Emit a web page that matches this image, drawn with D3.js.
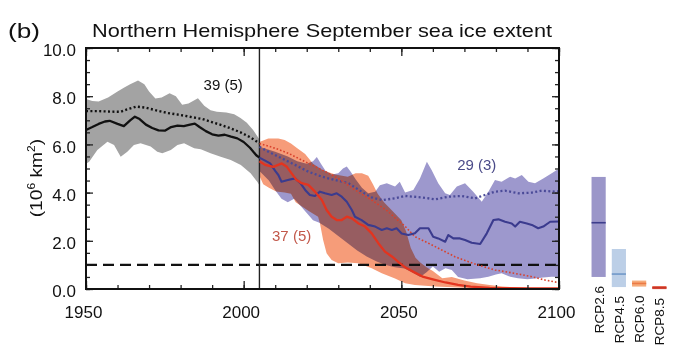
<!DOCTYPE html>
<html>
<head>
<meta charset="utf-8">
<script src="https://cdn.jsdelivr.net/npm/d3@7"></script>
<style>
  body { margin: 0; background: #fff; }
  svg { display: block; font-family: "Liberation Sans", Arial, sans-serif; background: #fff; }
</style>
</head>
<body>
<svg id="chart" width="680" height="349"></svg>
<script>
// Sea ice extent (10^6 km^2), [year, value] pairs

// historical, 1950-2005
const histMean = [[1950,6.6],[1952,6.72],[1954,6.85],[1956,6.95],[1957.5,6.98],[1960,6.85],[1962,6.76],
  [1964,7.0],[1965.5,7.15],[1967,7.05],[1969,6.82],[1971,6.68],[1973,6.58],[1975,6.57],[1977,6.72],
  [1979,6.78],[1981,6.76],[1983,6.82],[1984.5,6.86],[1986,6.72],[1988,6.55],[1990,6.42],[1992,6.36],
  [1994,6.4],[1996,6.32],[1998,6.25],[2000,6.1],[2002,5.86],[2004,5.55],[2005,5.45]];
const histAll = [[1950,7.38],[1954,7.38],[1958,7.36],[1961,7.35],[1963,7.45],[1966,7.57],[1969,7.52],
  [1972,7.42],[1976,7.3],[1980,7.22],[1984,7.12],[1987,7.05],[1990,6.92],[1993,6.8],[1996,6.66],
  [1999,6.5],[2002,6.3],[2005,6.05]];
const histUpper = [[1950,7.88],[1952,7.8],[1954,7.78],[1957,7.95],[1960,8.2],[1962,8.35],[1964,8.5],
  [1966.5,8.65],[1968.5,8.5],[1970,8.2],[1972,7.9],[1974,7.95],[1976.5,8.12],[1978.5,8.0],[1980.5,7.65],
  [1982.5,7.7],[1985.5,7.92],[1987.5,7.6],[1989.5,7.42],[1991.5,7.35],[1994.5,7.32],[1997,7.25],
  [1999,7.1],[2001,6.9],[2003,6.6],[2005,6.2]];
const histLower = [[1950,5.2],[1951,5.28],[1953.6,5.77],[1956.8,6.11],[1958.9,5.98],[1961,5.49],
  [1963.1,5.7],[1965.2,5.98],[1967.3,6.05],[1970.5,5.91],[1972.6,5.7],[1974.2,5.63],[1976.9,5.77],
  [1979,5.98],[1981.1,6.05],[1984.3,5.84],[1986.4,5.8],[1989.5,5.63],[1992.7,5.49],[1995.9,5.35],
  [1999.1,5.15],[2002.2,4.8],[2004.3,4.45],[2005,4.3]];

// RCP2.6, 2005-2100
const rcp26Mean = [[2005,5.45],[2006.5,5.35],[2008.4,5.21],[2010,4.9],[2011,4.73],[2012,4.45],[2014,4.52],
  [2016.3,4.59],[2018,4.39],[2019.5,4.11],[2021,3.9],[2022.6,3.86],[2024.2,4.04],[2025.8,3.97],
  [2027.9,3.9],[2029.5,3.97],[2031.1,3.83],[2032.7,3.62],[2034.3,3.28],[2035.3,3.0],[2037.4,2.86],
  [2039.5,2.66],[2041.7,2.59],[2043.8,2.45],[2045.4,2.52],[2047,2.45],[2048.5,2.52],[2050.1,2.3],
  [2052.2,2.24],[2054.3,2.31],[2055.9,2.52],[2058.6,2.52],[2060.1,2.17],[2061.7,2.1],[2063.9,1.96],
  [2064.9,2.24],[2066.5,2.1],[2068.6,2.1],[2070.2,2.03],[2072.3,1.92],[2075,1.87],[2077.1,2.31],
  [2079.2,2.86],[2080.8,2.89],[2082.9,2.79],[2085,2.72],[2086.1,2.59],[2087.6,2.79],[2089.8,2.72],
  [2091.4,2.66],[2093.4,2.52],[2095,2.59],[2097.2,2.79],[2100,2.8]];
const rcp26All = [[2005,5.9],[2007.8,5.7],[2012.1,5.42],[2016.3,5.15],[2020.5,4.87],[2024.8,4.66],
  [2029,4.52],[2033.2,4.39],[2037.4,4.04],[2040.6,3.8],[2043.8,3.69],[2048,3.76],[2051.2,3.86],
  [2056.5,3.8],[2060.7,3.72],[2064.9,3.83],[2069.2,3.86],[2073.4,3.76],[2076.5,3.9],[2079.7,4.04],
  [2082.9,4.08],[2087.1,3.97],[2091.4,4.0],[2094.5,4.08],[2098.7,4.04],[2100,4.05]];
const rcp26Upper = [[2005,5.9],[2010,5.7],[2014,5.5],[2017,5.3],[2020,5.2],[2022,5.3],[2023.2,5.48],
  [2024.5,5.2],[2026,4.9],[2028,4.75],[2030,4.8],[2031.5,5.0],[2032.7,5.08],[2034,4.85],[2035.5,4.55],
  [2037.5,4.2],[2039.5,3.97],[2041.7,4.04],[2043.2,4.3],[2045.4,4.39],[2048,4.25],[2049.5,4.45],
  [2051.2,4.0],[2053.8,4.11],[2055.9,4.59],[2058.1,5.28],[2059.6,4.94],[2061.7,4.39],[2063.9,3.97],
  [2065.4,3.9],[2067.6,4.25],[2070.2,4.39],[2072.8,4.04],[2075.5,3.62],[2077.6,4.04],[2079.7,4.52],
  [2081.8,4.45],[2084.5,4.66],[2086.1,4.59],[2088.2,4.73],[2090.3,4.45],[2092.4,4.39],[2095,4.59],
  [2097.7,4.8],[2099.3,4.94],[2100,4.95]];
const rcp26Lower = [[2005,4.9],[2008,4.5],[2010,4.1],[2012,3.75],[2014,3.6],[2016,3.75],[2018,3.45],
  [2020,3.15],[2022,2.85],[2024,2.75],[2027,2.5],[2030,2.2],[2033,1.9],[2036,1.6],[2039,1.35],
  [2042,1.15],[2045,1.0],[2048,0.9],[2051,0.85],[2054,0.65],[2056,0.5],[2058,0.7],[2060,0.93],
  [2062,0.72],[2064,0.86],[2066,0.79],[2068,0.5],[2071,0.4],[2075,0.45],[2077.6,0.51],[2080,0.6],
  [2081.8,0.65],[2084.5,0.51],[2087,0.45],[2090,0.4],[2092.4,0.44],[2095,0.48],[2097.7,0.51],[2100,0.5]];

// RCP8.5, 2005-2100
const rcp85Mean = [[2005,5.3],[2006.8,5.15],[2009.4,5.07],[2012.1,5.21],[2013.7,5.07],[2015.2,4.8],
  [2016.8,4.52],[2018.4,4.39],[2020.5,4.32],[2022.6,4.04],[2024.8,3.69],[2026.3,3.28],[2027.9,3.0],
  [2029.5,2.86],[2031.1,2.86],[2032.7,3.0],[2034.3,2.93],[2036.4,2.72],[2038.5,2.59],[2040.6,2.31],
  [2042.7,1.9],[2044.8,1.55],[2047,1.35],[2049.1,1.12],[2051.2,0.9],[2054,0.7],[2057,0.5],[2060,0.4],
  [2064,0.27],[2068,0.17],[2072,0.1],[2078,0.05],[2090,0.03],[2100,0.02]];
const rcp85All = [[2005,6.04],[2010,5.84],[2014.2,5.63],[2019.5,5.28],[2024.8,4.94],[2030,4.59],
  [2035.3,4.11],[2040.6,3.69],[2045.9,3.21],[2048,2.95],[2051.2,2.6],[2054.3,2.17],[2058.6,1.9],
  [2062.8,1.62],[2067,1.34],[2071.3,1.13],[2075.5,0.95],[2079.7,0.79],[2082.9,0.72],[2087.1,0.62],
  [2091.4,0.51],[2095.6,0.37],[2099.3,0.28],[2100,0.27]];
const rcp85Upper = [[2005,6.1],[2007.8,6.25],[2011,6.25],[2013,6.18],[2015,6.04],[2017,5.84],
  [2019.5,5.6],[2022,5.2],[2025,4.94],[2029,4.75],[2033,4.66],[2035.5,4.8],[2037.5,4.8],[2039.5,4.7],
  [2041,4.35],[2042.5,3.95],[2044.5,3.6],[2047.5,3.2],[2050,2.85],[2051.5,2.4],[2053,1.7],[2054.5,1.3],
  [2056,1.1],[2058,0.9],[2060,0.75],[2063,0.45],[2066,0.5],[2070,0.35],[2074,0.24],[2078,0.17],
  [2082,0.1],[2088,0.05],[2100,0.03]];
const rcp85Lower = [[2005,4.7],[2006.2,4.35],[2008,4.2],[2010.3,4.05],[2013,4.0],[2015,3.95],[2016.5,3.6],
  [2020.5,3.25],[2023.6,3.0],[2024.2,2.72],[2025.2,2.03],[2026.3,1.48],[2027.9,1.2],[2030,1.07],
  [2033,1.1],[2036.4,1.07],[2040.6,0.86],[2043.8,0.65],[2048,0.44],[2051.2,0.24],[2054.3,0.17],
  [2060.7,0.1],[2070,0.05],[2080,0.02],[2100,0.01]];

// 2081-2100 ranges per scenario: [min, median, max]
const rcpNames = ['RCP2.6', 'RCP4.5', 'RCP6.0', 'RCP8.5'];
const rcpRanges = [[0.5, 2.75, 4.65], [0.08, 0.62, 1.66], [0.1, 0.23, 0.35], [0.0, 0.05, 0.12]];

const xTickLabels = [1950, 2000, 2050, 2100];
const yTickLabels = [0, 2, 4, 6, 8, 10];
const thresholdValue = 1.0;
const splitYear = 2005;

// ---- layout ----
const margin = { top: 48, right: 121, bottom: 60, left: 86 };
const W = 680, H = 349;
const width = W - margin.left - margin.right;
const height = H - margin.top - margin.bottom;

const svg = d3.select('#chart');
const g = svg.append('g').attr('transform', `translate(${margin.left},${margin.top})`);

const x = d3.scaleLinear().domain([1950, 2100]).range([0, width]);
const y = d3.scaleLinear().domain([0, 10]).range([height, 0]);

const line = d3.line().x(d => x(d[0])).y(d => y(d[1]));
// band = upper edge forward, lower edge back
const band = (up, lo) => line(up.concat(lo.slice().reverse())) + 'Z';

// ---- bands (the RCP8.5 band multiplies over RCP2.6, giving the brown overlap) ----
g.append('path').attr('d', band(histUpper, histLower)).attr('fill', '#a3a3a3');
g.append('path').attr('d', band(rcp26Upper, rcp26Lower)).attr('fill', '#9d98cd');
g.append('path').attr('d', band(rcp85Upper, rcp85Lower))
  .attr('fill', '#f69c79').style('mix-blend-mode', 'multiply');

// threshold + split line
g.append('line')
  .attr('x1', 0).attr('x2', width)
  .attr('y1', y(thresholdValue)).attr('y2', y(thresholdValue))
  .attr('stroke', '#111').attr('stroke-width', 2.4).attr('stroke-dasharray', '11,6');
g.append('line')
  .attr('x1', x(splitYear)).attr('x2', x(splitYear))
  .attr('y1', 0).attr('y2', height)
  .attr('stroke', '#222').attr('stroke-width', 1.4);

// ---- lines ----
const series = [
  { data: histAll,   color: '#111',    w: 2.4, dash: '2,2.4' },
  { data: rcp26All,  color: '#4a4a98', w: 2.3, dash: '2,2.4' },
  { data: rcp85All,  color: '#d8412c', w: 1.6, dash: '1.6,2' },
  { data: histMean,  color: '#111',    w: 2.3 },
  { data: rcp26Mean, color: '#3b3b8e', w: 2.1 },
  { data: rcp85Mean, color: '#e3341f', w: 2.3 },
];
series.forEach(s => {
  g.append('path')
    .attr('d', line(s.data))
    .attr('fill', 'none')
    .attr('stroke', s.color)
    .attr('stroke-width', s.w)
    .attr('stroke-linejoin', 'round')
    .attr('stroke-dasharray', s.dash || null);
});

// ---- annotations ----
const notes = [
  { text: '39 (5)', year: 1987.3, value: 8.26, color: '#111' },
  { text: '29 (3)', year: 2067.7, value: 4.94, color: '#4a4a88' },
  { text: '37 (5)', year: 2009, value: 1.99, color: '#c2584a' },
];
g.selectAll('.note').data(notes).enter().append('text')
  .attr('class', 'note')
  .attr('x', d => x(d.year)).attr('y', d => y(d.value))
  .attr('fill', d => d.color)
  .attr('font-size', 15)
  .text(d => d.text);

// ---- axes (ticks inward) ----
const minorX = d3.range(1950, 2101, 10);
const minorY = d3.range(0, 10.01, 0.5);
const styleAxis = sel => {
  sel.select('.domain').remove();
  sel.selectAll('line').attr('stroke', '#222').attr('stroke-width', 1.3);
};

g.append('g').attr('transform', `translate(0,${height})`)
  .call(d3.axisBottom(x).tickValues(minorX).tickSize(-4).tickFormat('')).call(styleAxis);
g.append('g').attr('transform', `translate(0,${height})`)
  .call(d3.axisBottom(x).tickValues(xTickLabels).tickSize(-8).tickPadding(17).tickFormat(d3.format('d')))
  .call(styleAxis)
  .call(a => a.selectAll('text').attr('font-size', 17).attr('fill', '#111').attr('dx', -3));
g.append('g')
  .call(d3.axisTop(x).tickValues(minorX).tickSize(-4).tickFormat('')).call(styleAxis);
g.append('g')
  .call(d3.axisTop(x).tickValues(xTickLabels).tickSize(-8).tickFormat('')).call(styleAxis);

g.append('g')
  .call(d3.axisLeft(y).tickValues(minorY).tickSize(-4).tickFormat('')).call(styleAxis);
g.append('g')
  .call(d3.axisLeft(y).tickValues(yTickLabels).tickSize(-7).tickPadding(10).tickFormat(d3.format('.1f')))
  .call(styleAxis)
  .call(a => a.selectAll('text').attr('font-size', 17).attr('fill', '#111').attr('dy', '0.45em'));
g.append('g').attr('transform', `translate(${width},0)`)
  .call(d3.axisRight(y).tickValues(minorY).tickSize(-4).tickFormat('')).call(styleAxis);
g.append('g').attr('transform', `translate(${width},0)`)
  .call(d3.axisRight(y).tickValues(yTickLabels).tickSize(-7).tickFormat('')).call(styleAxis);

// frame
g.append('rect')
  .attr('width', width).attr('height', height)
  .attr('fill', 'none').attr('stroke', '#111').attr('stroke-width', 2);

// ---- titles ----
svg.append('text')
  .attr('x', 92).attr('y', 37)
  .attr('font-size', 19).attr('fill', '#111')
  .attr('textLength', 460).attr('lengthAdjust', 'spacingAndGlyphs')
  .text('Northern Hemisphere September sea ice extent');
svg.append('text')
  .attr('x', 8).attr('y', 38)
  .attr('font-size', 21).attr('fill', '#111')
  .attr('textLength', 32).attr('lengthAdjust', 'spacingAndGlyphs')
  .text('(b)');

const ylab = svg.append('text')
  .attr('transform', `translate(42,${margin.top + y(4.6)}) rotate(-90) scale(1.2,1)`)
  .attr('text-anchor', 'middle')
  .attr('font-size', 16).attr('fill', '#111');
ylab.append('tspan').text('(10');
ylab.append('tspan').attr('font-size', 10).attr('dy', -7).text('6');
ylab.append('tspan').attr('dy', 7).text(' km');
ylab.append('tspan').attr('font-size', 10).attr('dy', -7).text('2');
ylab.append('tspan').attr('dy', 7).text(')');

// ---- scenario range bars (same y scale) ----
const lx = d3.scaleBand().domain(rcpNames).range([588.5, 669.5]).paddingInner(0.3).paddingOuter(0.15);
const barFill = ['#9b96c9', '#bccfe7', '#f5ab7a', '#e2573d'];
const barMed = ['#3d3d8c', '#7198c8', '#ec7a45', '#c8352a'];

const bars = svg.append('g').attr('transform', `translate(0,${margin.top})`);
rcpNames.forEach((name, i) => {
  const [lo, med, hi] = rcpRanges[i];
  bars.append('rect')
    .attr('x', lx(name)).attr('width', lx.bandwidth())
    .attr('y', y(hi)).attr('height', Math.max(y(lo) - y(hi), 3))
    .attr('fill', barFill[i]);
  bars.append('line')
    .attr('x1', lx(name)).attr('x2', lx(name) + lx.bandwidth())
    .attr('y1', y(med)).attr('y2', y(med))
    .attr('stroke', barMed[i]).attr('stroke-width', 1.6);
  bars.append('text')
    .attr('transform', `translate(${lx(name) + lx.bandwidth() / 2 + 5},${y(lo) + 9}) rotate(-90)`)
    .attr('text-anchor', 'end')
    .attr('font-size', 13.5).attr('fill', '#111')
    .text(name);
});
</script>
</body>
</html>
